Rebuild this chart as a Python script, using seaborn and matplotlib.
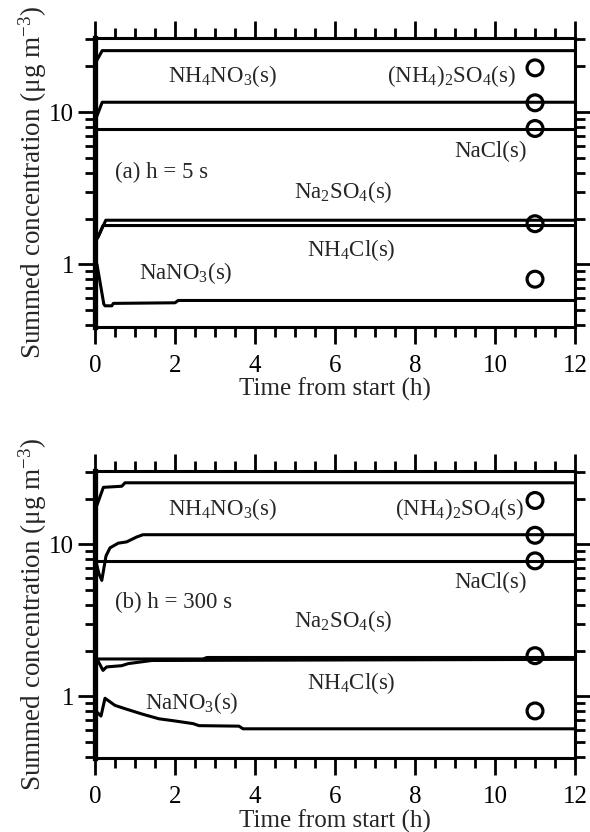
import numpy as np
import pandas as pd
import matplotlib
matplotlib.use("Agg")
import matplotlib.pyplot as plt
import matplotlib.ticker as mticker
import seaborn as sns

sns.set_style("ticks")
plt.rcParams['font.family'] = ['Liberation Serif', 'DejaVu Serif']
plt.rcParams['mathtext.fontset'] = 'custom'
plt.rcParams['mathtext.rm'] = 'Liberation Serif'
plt.rcParams['mathtext.it'] = 'Liberation Serif:italic'
plt.rcParams['mathtext.default'] = 'rm'

# ---------------- data ----------------
# panel (a) h = 5 s
a_total_t = [0.0, 0.04, 0.18, 12.0]
a_total_v = [21.0, 21.7, 25.3, 25.3]
a_l2_t = [0.0, 0.04, 0.18, 12.0]
a_l2_v = [9.0, 9.3, 11.6, 11.6]
a_l3_t = [0.0, 12.0]
a_l3_v = [7.8, 7.8]
a_l4_t = [0.03, 0.08, 0.27, 12.0]
a_l4_v = [1.45, 1.52, 1.95, 1.95]
a_l5_t = [0.03, 0.08, 0.2, 12.0]
a_l5_v = [1.45, 1.52, 1.8, 1.8]
a_l6_t = [0.02, 0.05, 0.22, 0.25, 0.42, 0.46, 2.0, 2.08, 12.0]
a_l6_v = [1.02, 1.0, 0.55, 0.535, 0.535, 0.555, 0.56, 0.58, 0.58]

# panel (b) h = 300 s
b_total_t = [0.0, 0.04, 0.21, 0.67, 0.75, 12.0]
b_total_v = [17.0, 17.9, 23.8, 24.2, 25.5, 25.5]
b_l2_t = [0.02, 0.1, 0.17, 0.275, 0.375, 0.58, 0.79, 1.04, 1.2, 12.0]
b_l2_v = [7.8, 6.4, 5.8, 8.4, 9.5, 10.2, 10.4, 11.2, 11.6, 11.6]
b_l3_t = [0.0, 12.0]
b_l3_v = [7.8, 7.8]
b_l4_t = [0.02, 2.7, 2.8, 12.0]
b_l4_v = [1.76, 1.76, 1.80, 1.80]
b_l5_t = [0.05, 0.2, 0.29, 0.67, 0.83, 1.42, 12.0]
b_l5_v = [1.76, 1.48, 1.56, 1.59, 1.64, 1.72, 1.75]
b_l6_t = [0.02, 0.15, 0.25, 0.5, 0.8, 1.2, 1.6, 1.95, 2.45, 2.6, 3.6, 3.7, 12.0]
b_l6_v = [0.80, 0.74, 0.97, 0.87, 0.82, 0.76, 0.71, 0.69, 0.66, 0.64, 0.635, 0.61, 0.61]

# observations (circles)
obs_t = [11, 11, 11, 11, 11]
obs_v = [19.5, 11.5, 7.8, 1.85, 0.80]

species_labels = [r"NH$_4$NO$_3$(s)", r"(NH$_4$)$_2$SO$_4$(s)", "NaCl(s)",
                  r"Na$_2$SO$_4$(s)", r"NH$_4$Cl(s)", r"NaNO$_3$(s)"]
xticks = [0, 2, 4, 6, 8, 10, 12]

panels = [
    dict(title="(a) h = 5 s",
         lines=[(a_total_t, a_total_v), (a_l2_t, a_l2_v), (a_l3_t, a_l3_v),
                (a_l4_t, a_l4_v), (a_l5_t, a_l5_v), (a_l6_t, a_l6_v)],
         label_pos=[(3.18, 17.2), (8.9, 17.2), (9.88, 5.5), (6.2, 3.0), (6.4, 1.24), (2.28, 0.875)],
         title_pos=(0.5, 4.0),
         rect=[0.161, 0.6073, 0.8136, 0.3467]),
    dict(title="(b) h = 300 s",
         lines=[(b_total_t, b_total_v), (b_l2_t, b_l2_v), (b_l3_t, b_l3_v),
                (b_l4_t, b_l4_v), (b_l5_t, b_l5_v), (b_l6_t, b_l6_v)],
         label_pos=[(3.18, 17.0), (9.1, 17.0), (9.88, 5.6), (6.2, 3.12), (6.4, 1.22), (2.42, 0.90)],
         title_pos=(0.5, 4.13),
         rect=[0.161, 0.0886, 0.8136, 0.3453]),
]

fig = plt.figure(figsize=(5.9, 8.32), dpi=100)
LW = 2.2
FS = 18
FSY = 19.5
FSA = 16.5

for p in panels:
    ax = fig.add_axes(p["rect"])
    for (t, v) in p["lines"]:
        df = pd.DataFrame({"t": t, "v": v})
        sns.lineplot(data=df, x="t", y="v", ax=ax, color="black", lw=LW,
                     estimator=None, sort=False, legend=False)
    dfo = pd.DataFrame({"t": obs_t, "v": obs_v})
    sns.scatterplot(data=dfo, x="t", y="v", ax=ax, marker="o", s=130,
                    facecolor="none", edgecolor="black", linewidth=2.3,
                    legend=False, zorder=5)
    ax.set_yscale("log")
    ax.set_xlim(0, 12)
    ax.set_ylim(0.39, 30.5)
    ax.set_xticks(xticks)
    ax.set_xticklabels([str(x) for x in xticks])
    ax.xaxis.set_minor_locator(mticker.MultipleLocator(0.5))
    ax.yaxis.set_major_locator(mticker.FixedLocator([1, 10]))
    ax.yaxis.set_major_formatter(mticker.FixedFormatter(["1", "10"]))
    ax.yaxis.set_minor_locator(mticker.LogLocator(base=10, subs=np.arange(2, 10), numticks=20))
    ax.yaxis.set_minor_formatter(mticker.NullFormatter())
    ax.tick_params(which="both", direction="out", top=True, right=True, width=2.0,
                   labelsize=FS, color="black", labelcolor="black")
    ax.tick_params(which="major", length=12, pad=3)
    ax.tick_params(axis="x", which="major", pad=8)
    ax.tick_params(which="minor", length=7)
    for s in ["top", "bottom", "right"]:
        ax.spines[s].set_linewidth(2.2)
        ax.spines[s].set_color("black")
    ax.spines["left"].set_linewidth(3.8)
    ax.spines["left"].set_color("black")
    ax.set_xlabel("Time from start (h)", fontsize=FS, labelpad=1)
    ax.set_ylabel(r"Summed concentration ($\mu$g m$^{-3}$)", fontsize=FSY, labelpad=0)
    for lab, (x, y) in zip(species_labels, p["label_pos"]):
        ax.text(x, y, lab, fontsize=FSA, ha="center", va="center")
    ax.text(p["title_pos"][0], p["title_pos"][1], p["title"], fontsize=FSA,
            ha="left", va="center")

fig.savefig("out.png", dpi=100)
